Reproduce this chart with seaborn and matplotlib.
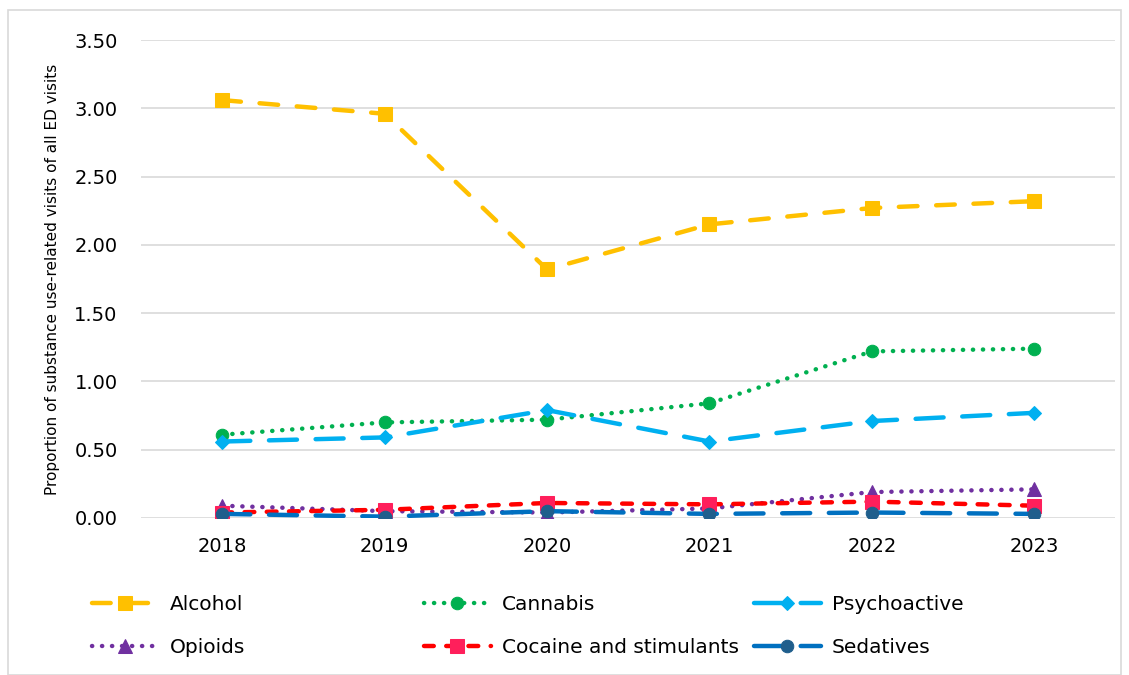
import matplotlib
matplotlib.use("Agg")
import matplotlib.pyplot as plt
import seaborn as sns
from matplotlib.patches import Rectangle

sns.set_style("white")
plt.rcParams['font.family'] = ['DejaVu Sans']
plt.rcParams['text.color'] = 'black'

years = ["2018", "2019", "2020", "2021", "2022", "2023"]
alcohol = [3.06, 2.96, 1.82, 2.15, 2.27, 2.32]
cannabis = [0.61, 0.70, 0.72, 0.84, 1.22, 1.24]
psychoactive = [0.56, 0.59, 0.79, 0.56, 0.71, 0.77]
opioids = [0.09, 0.05, 0.04, 0.07, 0.19, 0.21]
cocaine = [0.04, 0.06, 0.11, 0.10, 0.12, 0.09]
sedatives = [0.03, 0.01, 0.05, 0.03, 0.04, 0.03]

series = [
    # label, values, line colour, marker colour, marker, dashes, marker size
    ("Alcohol", alcohol, "#FFC000", "#FFC000", "s", (4.2, 4.2), 10),
    ("Cannabis", cannabis, "#00B050", "#00B050", "o", (0.05, 2.2), 9),
    ("Psychoactive", psychoactive, "#00B0F0", "#00B0F0", "D", (6.3, 4.2), 7),
    ("Opioids", opioids, "#7030A0", "#7030A0", "^", (0.05, 2.2), 10),
    ("Cocaine and stimulants", cocaine, "#FF0000", "#FF1F5B", "s", (2.2, 2.8), 10),
    ("Sedatives", sedatives, "#0070C0", "#1F5E8C", "o", (6.3, 4.2), 9),
]

fig = plt.figure(figsize=(11.29, 6.75), dpi=100)
ax = fig.add_axes([0.125, 0.2326, 0.863, 0.7081])

handles = {}
for label, vals, lc, mc, mk, dash, ms in series:
    sns.lineplot(x=years, y=vals, ax=ax, color=lc, linewidth=3.2,
                 marker=mk, markersize=ms, markerfacecolor=mc,
                 markeredgecolor=mc, sort=False, label=label)
    line = ax.get_lines()[-1]
    line.set_dashes(dash)
    line.set_dash_capstyle("round")
    handles[label] = line

ax.set_ylim(0, 3.5)
ax.set_xlim(-0.5, 5.5)
ax.set_yticks([0, 0.5, 1, 1.5, 2, 2.5, 3, 3.5])
ax.set_yticklabels([f"{v:.2f}" for v in ax.get_yticks()])
ax.yaxis.grid(True, color="#D9D9D9", linewidth=1.2)
ax.set_axisbelow(True)
for s in ax.spines.values():
    s.set_visible(False)
ax.tick_params(axis="both", length=0, labelsize=14, colors="#000000")
ax.tick_params(axis="x", pad=14)
ax.tick_params(axis="y", pad=17)
ax.set_xlabel("")
ax.set_ylabel("Proportion of substance use-related visits of all ED visits",
              fontsize=11, labelpad=10, color="black")
ax.get_legend().remove()

cols = [["Alcohol", "Opioids"], ["Cannabis", "Cocaine and stimulants"],
        ["Psychoactive", "Sedatives"]]
xs = [84, 416, 746]
for names, x0 in zip(cols, xs):
    fig.legend([handles[n] for n in names], names, loc="upper left",
               bbox_to_anchor=(x0 / 1129, 1 - 587 / 675), frameon=False,
               fontsize=14.5, handlelength=3.3, handletextpad=0.55,
               labelspacing=1.2, borderaxespad=0, labelcolor="black")

fig.patches.append(Rectangle((8 / 1129, 0.0), 1 - 16 / 1129, 1 - 10 / 675,
                             transform=fig.transFigure, fill=False,
                             edgecolor="#D9D9D9", linewidth=1.2))

fig.savefig("out.png", dpi=100)
